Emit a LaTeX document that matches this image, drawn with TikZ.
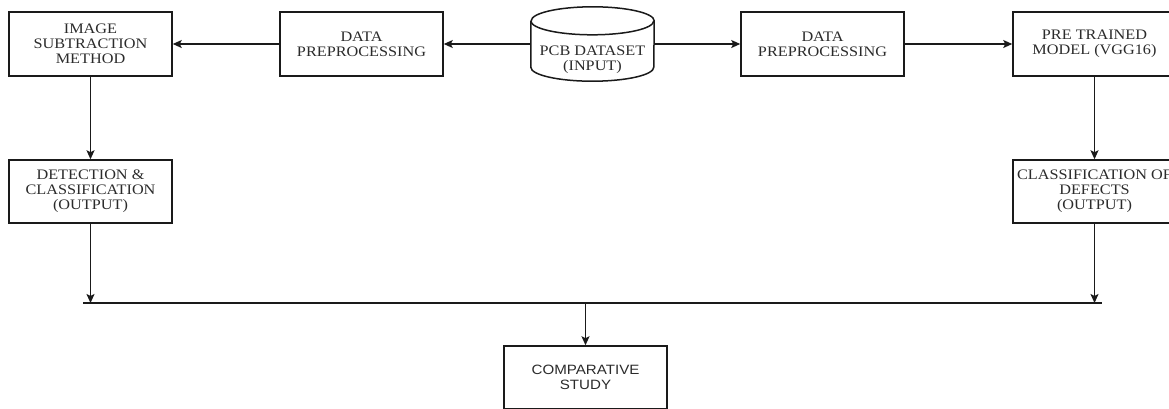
\documentclass[tikz,border=0pt]{standalone}
\usepackage{fontspec}
\setmainfont{Liberation Serif}[FakeStretch=1.12]
\newfontfamily\cmpfont{Liberation Sans}[FakeStretch=1.12]
\usetikzlibrary{arrows.meta}
\definecolor{txt}{HTML}{2B2B2B}
\definecolor{ln}{HTML}{1A1A1A}
\tikzset{
  box/.style={draw=ln, line width=1.5pt, rectangle, minimum width=163pt, minimum height=64pt,
    inner sep=0pt, align=center, text=txt, font=\fontsize{14.5}{15}\selectfont},
  conn/.style={draw=ln, line width=1.5pt, -{Stealth[length=9pt,width=8pt,inset=2pt]}},
  plain/.style={draw=ln, line width=1.5pt}
}
\begin{document}
\begin{tikzpicture}[x=1pt,y=-1pt]
\useasboundingbox (0,0) rectangle (1169,408);
\clip (0,0) rectangle (1169,408);
\node[box] (b1) at (90.5,44) {IMAGE\\SUBTRACTION\\METHOD};
\node[box] (b2) at (361.5,44) {DATA\\PREPROCESSING};
\node[minimum width=123pt, minimum height=74pt, inner sep=0pt] (db) at (592.5,44) {};
\draw[plain] ([yshift=-14pt]db.north west) -- ([yshift=14pt]db.south west)
  arc[start angle=180, end angle=360, x radius=61.5pt, y radius=14pt]
  -- ([yshift=-14pt]db.north east)
  arc[start angle=0, end angle=180, x radius=61.5pt, y radius=14pt];
\draw[plain] ([yshift=-14pt]db.north west)
  arc[start angle=180, end angle=360, x radius=61.5pt, y radius=14pt];
\node[align=center, text=txt, inner sep=0pt, font=\fontsize{14.5}{15}\selectfont] (dbl) at ([yshift=-16pt]db.center) {PCB DATASET\\(INPUT)};
\node[box] (b3) at (822.5,44) {DATA\\PREPROCESSING};
\node[box] (b4) at (1094.5,44) {PRE TRAINED\\MODEL (VGG16)};
\node[box, minimum height=63pt] (b5) at (90.5,191.5) {DETECTION \&\\CLASSIFICATION\\(OUTPUT)};
\node[box, minimum height=63pt] (b6) at (1094.5,191.5) {CLASSIFICATION OF\\DEFECTS\\(OUTPUT)};
\node[box, minimum height=63pt, font=\cmpfont\fontsize{13.5}{15.5}\selectfont] (cmp) at (585.5,377.5) {COMPARATIVE\\STUDY};
\coordinate (bl) at (83,303);
\coordinate (br) at (1102,303);
\coordinate (j1) at (90.5,303);
\coordinate (j2) at (1094.5,303);
\coordinate (j3) at (585.5,303);
\draw[conn] (b2) -- (b1);
\draw[conn] (db.west) -- (b2);
\draw[conn] (db.east) -- (b3);
\draw[conn] (b3) -- (b4);
\draw[conn] (b1) -- (b5);
\draw[conn] (b4) -- (b6);
\draw[conn] (b5) -- (j1);
\draw[conn] (b6) -- (j2);
\draw[plain] (bl) -- (br);
\draw[conn] (j3) -- (cmp);
\end{tikzpicture}
\end{document}
